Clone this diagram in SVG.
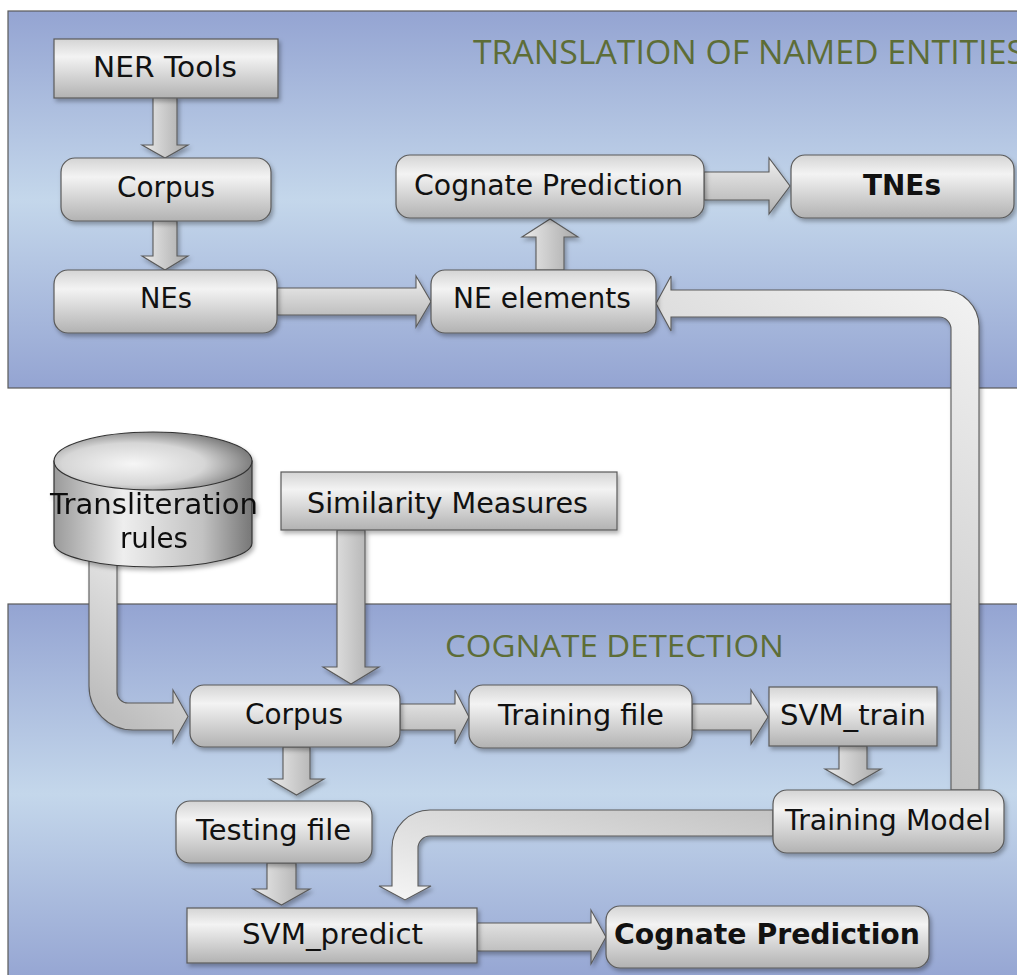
<svg xmlns="http://www.w3.org/2000/svg" width="1017" height="975" viewBox="0 0 1017 975">
<defs>
<linearGradient id="panel" x1="0" y1="0" x2="0" y2="1">
<stop offset="0" stop-color="#94a4d2"/>
<stop offset="0.5" stop-color="#c4d7eb"/>
<stop offset="1" stop-color="#94a4d2"/>
</linearGradient>
<linearGradient id="node" x1="0" y1="0" x2="0" y2="1">
<stop offset="0" stop-color="#d4d4d4"/>
<stop offset="0.3" stop-color="#f3f3f3"/>
<stop offset="1" stop-color="#b2b2b2"/>
</linearGradient>
<linearGradient id="arrH" x1="0" y1="0" x2="0" y2="1">
<stop offset="0" stop-color="#f0f0f0"/>
<stop offset="1" stop-color="#b0b0b0"/>
</linearGradient>
<linearGradient id="arrV" x1="0" y1="0" x2="1" y2="0">
<stop offset="0" stop-color="#ececec"/>
<stop offset="1" stop-color="#a8a8a8"/>
</linearGradient>
<linearGradient id="arrBig" x1="1" y1="0" x2="0.6" y2="1">
<stop offset="0" stop-color="#f4f4f4"/>
<stop offset="1" stop-color="#bdbdbd"/>
</linearGradient>
<linearGradient id="arrBig2" x1="1" y1="0" x2="0" y2="1">
<stop offset="0" stop-color="#c4c4c4"/>
<stop offset="0.7" stop-color="#e6e6e6"/>
<stop offset="1" stop-color="#f6f6f6"/>
</linearGradient>
<linearGradient id="cyl" x1="0" y1="0" x2="1" y2="0">
<stop offset="0" stop-color="#9a9a9a"/>
<stop offset="0.35" stop-color="#eeeeee"/>
<stop offset="0.75" stop-color="#c2c2c2"/>
<stop offset="1" stop-color="#777777"/>
</linearGradient>
<radialGradient id="cylTop" cx="0.4" cy="0.55" r="0.6">
<stop offset="0" stop-color="#f6f6f6"/>
<stop offset="0.6" stop-color="#d6d6d6"/>
<stop offset="1" stop-color="#7e7e7e"/>
</radialGradient>
<filter id="sh" x="-10%" y="-10%" width="130%" height="140%">
<feDropShadow dx="2" dy="3" stdDeviation="2" flood-color="#000" flood-opacity="0.3"/>
</filter>
</defs>
<style>
.panel{fill:url(#panel);stroke:#5a5a5a;stroke-width:1.2}
.title{font-family:"Open Sans","Liberation Sans",sans-serif;fill:#5d6d37}
.box{fill:url(#node);stroke:#5a5a5a;stroke-width:1.2;filter:url(#sh)}
.t{font-family:"DejaVu Sans",Verdana,sans-serif;font-size:28px;fill:#111}
.b{font-weight:bold}
.ah{fill:url(#arrH);stroke:#5a5a5a;stroke-width:1.1;filter:url(#sh)}
.av{fill:url(#arrV);stroke:#5a5a5a;stroke-width:1.1;filter:url(#sh)}
</style>
<rect width="1017" height="975" fill="#ffffff"/>
<g id="panels">
<rect class="panel" x="8" y="11" width="1020" height="377"/>
<rect class="panel" x="8" y="604" width="1020" height="380"/>
<text class="title" x="473" y="64" font-size="33" textLength="552" lengthAdjust="spacingAndGlyphs">TRANSLATION OF NAMED ENTITIES</text>
<text class="title" x="445" y="657" font-size="31" textLength="339" lengthAdjust="spacingAndGlyphs">COGNATE DETECTION</text>
</g>
<g id="connectors">
<polygon class="av" points="153,97 177,97 177,145 188,145 165,158 142,145 153,145"/>
<polygon class="av" points="153,221 177,221 177,256 188,256 165,270 142,256 153,256"/>
<polygon class="ah" points="277,288 416,288 416,276 431,301.5 416,327 416,315 277,315"/>
<polygon class="av" points="536,270 536,237 522,237 550,219 578,237 564,237 564,270"/>
<polygon class="ah" points="704,172 769,172 769,158 790,186 769,214 769,200 704,200"/>
<path class="ah" style="fill:url(#arrBig)" d="M951,790 V329 A12,12 0 0 0 939,317 H671 V331 L656,303.5 L671,276 V290 H943 A36,36 0 0 1 979,326 V790 Z"/>
<path class="ah" style="fill:url(#arrBig)" d="M89,550 V686 A44,44 0 0 0 133,730 H173 V743 L188,716.5 L173,690 V703 H128 A11,11 0 0 1 117,692 V550 Z"/>
<polygon class="av" points="337,530 365,530 365,667 379,667 351,684 323,667 337,667"/>
<polygon class="ah" points="400,704 455,704 455,690 469,717 455,744 455,730 400,730"/>
<polygon class="ah" points="692,704 751,704 751,690 768,717 751,744 751,730 692,730"/>
<polygon class="av" points="839,746 867,746 867,769 881,769 853,785 825,769 839,769"/>
<polygon class="av" points="283,747 310,747 310,779 324,779 296.5,795 269,779 283,779"/>
<polygon class="av" points="267,863 296,863 296,889 310,889 281.5,905 253,889 267,889"/>
<path class="ah" style="fill:url(#arrBig2)" d="M773,810 H430 A38,38 0 0 0 392,848 V886 H379 L405,900 L431,886 H418 V848 A12,12 0 0 1 430,836 H773 Z"/>
<polygon class="ah" points="477,923 591,923 591,910 606,937 591,964 591,951 477,951"/>
</g>
<g id="ner-tools"><rect class="box" x="54" y="39" width="224" height="59"/><text class="t" x="93" y="77" textLength="144" lengthAdjust="spacingAndGlyphs">NER Tools</text></g>
<g id="corpus-top"><rect class="box" x="61" y="158" width="210" height="63" rx="14"/><text class="t" x="117" y="197" textLength="98" lengthAdjust="spacingAndGlyphs">Corpus</text></g>
<g id="nes"><rect class="box" x="54" y="270" width="223" height="63" rx="14"/><text class="t" x="140" y="308" textLength="52" lengthAdjust="spacingAndGlyphs">NEs</text></g>
<g id="ne-elements"><rect class="box" x="431" y="270" width="225" height="63" rx="14"/><text class="t" x="453" y="308" textLength="178" lengthAdjust="spacingAndGlyphs">NE elements</text></g>
<g id="cognate-prediction-top"><rect class="box" x="396" y="155" width="308" height="63" rx="14"/><text class="t" x="414" y="195" textLength="269" lengthAdjust="spacingAndGlyphs">Cognate Prediction</text></g>
<g id="tnes"><rect class="box" x="791" y="155" width="223" height="63" rx="14"/><text class="t b" x="863" y="195" textLength="78" lengthAdjust="spacingAndGlyphs">TNEs</text></g>
<g id="transliteration-rules" filter="url(#sh)">
<path d="M54,461 V543 A99,24 0 0 0 252,543 V461 Z" fill="url(#cyl)" stroke="#333" stroke-width="1.2"/>
<ellipse cx="153" cy="461" rx="99" ry="29" fill="url(#cylTop)" stroke="#333" stroke-width="1.2"/>
<text class="t" x="50" y="514" textLength="208" lengthAdjust="spacingAndGlyphs">Transliteration</text>
<text class="t" x="120" y="548" textLength="68" lengthAdjust="spacingAndGlyphs">rules</text>
</g>
<g id="similarity-measures"><rect class="box" x="281" y="472" width="336" height="58"/><text class="t" x="307" y="513" textLength="281" lengthAdjust="spacingAndGlyphs">Similarity Measures</text></g>
<g id="corpus-bottom"><rect class="box" x="190" y="685" width="210" height="62" rx="14"/><text class="t" x="245" y="724" textLength="98" lengthAdjust="spacingAndGlyphs">Corpus</text></g>
<g id="training-file"><rect class="box" x="469" y="685" width="223" height="63" rx="14"/><text class="t" x="498" y="725" textLength="166" lengthAdjust="spacingAndGlyphs">Training file</text></g>
<g id="svm-train"><rect class="box" x="769" y="687" width="168" height="59"/><text class="t" x="780" y="725" textLength="146" lengthAdjust="spacingAndGlyphs">SVM_train</text></g>
<g id="training-model"><rect class="box" x="773" y="790" width="231" height="63" rx="14"/><text class="t" x="785" y="830" textLength="206" lengthAdjust="spacingAndGlyphs">Training Model</text></g>
<g id="testing-file"><rect class="box" x="176" y="801" width="196" height="62" rx="14"/><text class="t" x="196" y="840" textLength="155" lengthAdjust="spacingAndGlyphs">Testing file</text></g>
<g id="svm-predict"><rect class="box" x="187" y="908" width="290" height="55"/><text class="t" x="242" y="944" textLength="181" lengthAdjust="spacingAndGlyphs">SVM_predict</text></g>
<g id="cognate-prediction-bottom"><rect class="box" x="606" y="906" width="323" height="62" rx="14"/><text class="t b" x="614" y="944" textLength="306" lengthAdjust="spacingAndGlyphs">Cognate Prediction</text></g>
</svg>
